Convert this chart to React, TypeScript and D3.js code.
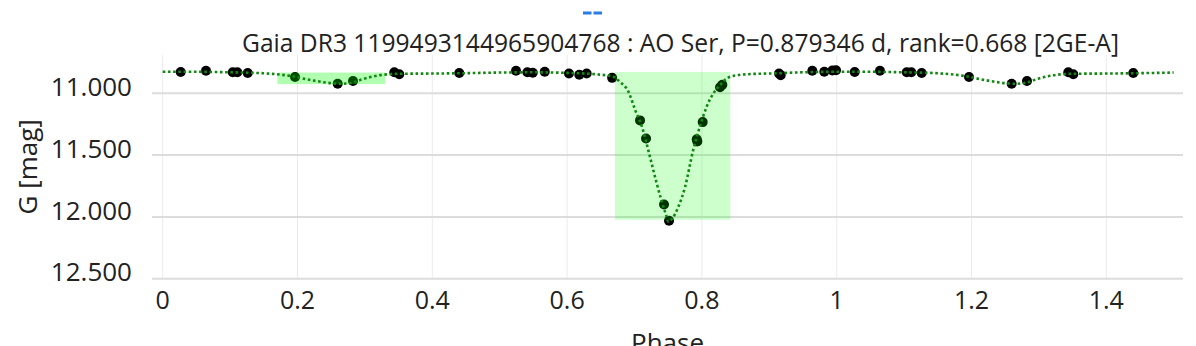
import React from "react";
import * as d3 from "d3";

const TITLE = "Gaia DR3 1199493144965904768 : AO Ser, P=0.879346 d, rank=0.668 [2GE-A]";
const X_LABEL = "Phase";
const Y_LABEL = "G [mag]";

const xTicks = [0, 0.2, 0.4, 0.6, 0.8, 1, 1.2, 1.4];
const xTickLabels = ["0", "0.2", "0.4", "0.6", "0.8", "1", "1.2", "1.4"];
const yTicks = [11, 11.5, 12, 12.5];
const yTickLabels = ["11.000", "11.500", "12.000", "12.500"];

// observed phases (0..1) and G magnitudes
const obsPhase = [
  0.0267, 0.0642, 0.1039, 0.1107, 0.1261, 0.1963, 0.2596, 0.2823, 0.3436, 0.351, 0.44,
  0.5242, 0.541, 0.549, 0.5668, 0.6028, 0.6181, 0.629, 0.6668, 0.7082, 0.7171, 0.7438,
  0.7512, 0.7923, 0.7932, 0.8012, 0.8269, 0.8303, 0.9144, 0.9169, 0.9638, 0.9816, 0.9935, 0.999,
];
const obsMag = [
  10.827, 10.817, 10.83, 10.83, 10.835, 10.868, 10.922, 10.9, 10.83, 10.846, 10.835,
  10.817, 10.83, 10.833, 10.825, 10.839, 10.85, 10.839, 10.875, 11.219, 11.365, 11.899,
  12.031, 11.371, 11.39, 11.233, 10.951, 10.93, 10.84, 10.853, 10.817, 10.825, 10.815, 10.813,
];

// model curve
const modelPhase = [
  0.0, 0.05, 0.1, 0.15, 0.19, 0.22, 0.25, 0.265, 0.28, 0.3, 0.32, 0.35, 0.4, 0.45, 0.5,
  0.55, 0.6, 0.64, 0.667, 0.678, 0.691, 0.701, 0.711, 0.723, 0.733, 0.74, 0.747, 0.7503,
  0.755, 0.765, 0.775, 0.787, 0.797, 0.807, 0.817, 0.827, 0.842, 0.866, 0.911, 0.95, 1.0,
];
const modelMag = [
  10.826, 10.826, 10.83, 10.838, 10.86, 10.893, 10.918, 10.923, 10.915, 10.88, 10.855, 10.842,
  10.84, 10.837, 10.832, 10.83, 10.835, 10.845, 10.862, 10.906, 10.987, 11.135, 11.27, 11.515,
  11.73, 11.866, 11.988, 12.04, 12.02, 11.92, 11.758, 11.46, 11.27, 11.109, 11.0, 10.933,
  10.865, 10.846, 10.838, 10.83, 10.826,
];

// eclipse windows
const boxPhaseStart = [0.17, 0.671];
const boxPhaseEnd = [0.33, 0.842];
const boxMagTop = [10.832, 10.827];
const boxMagBottom = [10.926, 12.023];
const boxOpacity = [0.3, 0.2];

const phaseMax = 1.5;

const W = 1196;
const H = 346;
const FONT = "'Open Sans', 'Noto Sans', sans-serif";
const TEXT = "#222";

export default function App() {
  const x = d3.scaleLinear().domain([-0.0159, 1.5138]).range([152, 1183]);
  const y = d3.scaleLinear().domain([10.69, 12.5]).range([55, 278.7]);
  const [x0, x1] = x.range();
  const [y0, y1] = y.range();

  const pts: [number, number][] = [];
  obsPhase.forEach((p, i) => {
    pts.push([p, obsMag[i]]);
  });
  obsPhase.forEach((p, i) => {
    if (p + 1 <= phaseMax) pts.push([p + 1, obsMag[i]]);
  });

  const model: [number, number][] = [];
  modelPhase.forEach((p, i) => model.push([p, modelMag[i]]));
  modelPhase.forEach((p, i) => {
    if (p > 0 && p + 1 <= phaseMax) model.push([p + 1, modelMag[i]]);
  });
  model.push([phaseMax, 10.832]);

  const line = d3
    .line<[number, number]>()
    .x((d) => x(d[0]))
    .y((d) => y(d[1]))
    .curve(d3.curveMonotoneX);

  return (
    <svg
      width={W}
      height={H}
      style={{ position: "fixed", left: 0, top: 0, background: "#fff" }}
      fontFamily={FONT}
    >
      <rect x={0} y={0} width={W} height={H} fill="#fff" />
      {/* legend fragment */}
      <line x1={583} x2={602} y1={13} y2={13} stroke="#2a7de1" strokeWidth={3} strokeDasharray="8.5,2" />
      <text x={680.5} y={52} textAnchor="middle" fontSize={24.6} fill={TEXT}>
        {TITLE}
      </text>
      {/* grid */}
      {xTicks.map((t) => (
        <line key={"vx" + t} x1={x(t)} x2={x(t)} y1={y0} y2={y1} stroke="#ebebeb" strokeWidth={1} />
      ))}
      {yTicks.map((t) => (
        <line key={"hy" + t} x1={x0} x2={x1} y1={y(t)} y2={y(t)} stroke="#dcdcdc" strokeWidth={2} />
      ))}
      {/* points */}
      {pts.map((d, i) => (
        <circle key={"p" + i} cx={x(d[0])} cy={y(d[1])} r={5} fill="#000" />
      ))}
      {/* eclipse boxes */}
      {boxPhaseStart.map((s, i) => (
        <rect
          key={"b" + i}
          x={x(s)}
          y={y(boxMagTop[i])}
          width={x(boxPhaseEnd[i]) - x(s)}
          height={y(boxMagBottom[i]) - y(boxMagTop[i])}
          fill="#00ff00"
          fillOpacity={boxOpacity[i]}
        />
      ))}
      {/* model */}
      <path d={line(model) || ""} fill="none" stroke="#118811" strokeWidth={2.6} strokeDasharray="2.6,2.6" />
      {/* x tick labels */}
      {xTicks.map((t, i) => (
        <text key={"xt" + t} x={x(t)} y={309} textAnchor="middle" fontSize={25} fill={TEXT}>
          {xTickLabels[i]}
        </text>
      ))}
      {yTicks.map((t, i) => (
        <text key={"yt" + t} x={132} y={y(t) + 2.7} textAnchor="end" fontSize={26} fill={TEXT}>
          {yTickLabels[i]}
        </text>
      ))}
      <text x={(x0 + x1) / 2} y={351.6} textAnchor="middle" fontSize={26} fill={TEXT}>
        {X_LABEL}
      </text>
      <text
        transform={`translate(37,${(y0 + y1) / 2}) rotate(-90)`}
        textAnchor="middle"
        fontSize={26}
        fill={TEXT}
      >
        {Y_LABEL}
      </text>
    </svg>
  );
}
